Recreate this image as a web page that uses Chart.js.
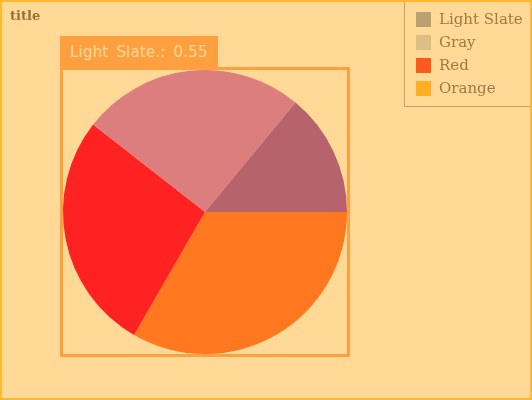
<!DOCTYPE html>
<html>
<head>
<meta charset="utf-8">
<script src="https://cdn.jsdelivr.net/npm/chart.js@4/dist/chart.umd.min.js"></script>
<style>
  html, body { margin: 0; padding: 0; background: #FFD995; }
  #wrap { position: relative; width: 532px; height: 400px; overflow: hidden; background: #FFD995; }
  #c { position: absolute; left: 0; top: 0; }
  #frame { position: absolute; left: 0; top: 0; width: 532px; height: 400px; box-sizing: border-box; border: 2px solid #FFB830; pointer-events: none; }
  #title { position: absolute; left: 10px; top: 8px; font: bold 13px "DejaVu Serif", serif; color: #967038; line-height: 16px; }
  #legend { position: absolute; left: 404px; top: -1px; width: 127px; height: 108px; box-sizing: border-box; border: 1px solid #C8A060; }
  .li { position: absolute; left: 11px; height: 16px; font: 15px "DejaVu Serif", serif; color: #A07844; line-height: 16px; white-space: nowrap; }
  .li span.sw { position: absolute; left: 0; top: 1px; width: 15px; height: 15px; }
  .li span.tx { position: absolute; left: 23px; top: 0; }
  #tip { position: absolute; background: #FFA040; color: #FFD696; font: 15px "DejaVu Sans", sans-serif; word-spacing: 3px; letter-spacing: 0.2px; box-sizing: border-box; padding-left: 10px; line-height: 32px; white-space: pre; }
</style>
</head>
<body>
<div id="wrap">
  <canvas id="c" width="532" height="400"></canvas>
  <div id="title">title</div>
  <div id="legend"></div>
  <div id="tip"></div>
  <div id="frame"></div>
</div>
<script>
const titleText = 'title';
const categories = ['Light Slate', 'Gray', 'Red', 'Orange'];
const values = [0.55, 1.0, 1.07, 1.31];
const sliceColors = ['#B6636D', '#DC7E7E', '#FF2222', '#FF7820'];
const legendColors = ['#B8A070', '#DEBE84', '#FF5A1E', '#FFB020'];
const tipIndex = 0;

document.getElementById('title').textContent = titleText;

// legend
const lg = document.getElementById('legend');
categories.forEach((c, i) => {
  const d = document.createElement('div');
  d.className = 'li';
  d.style.top = (11 + i * 23) + 'px';
  const sw = document.createElement('span');
  sw.className = 'sw';
  sw.style.background = legendColors[i];
  const tx = document.createElement('span');
  tx.className = 'tx';
  tx.textContent = c;
  d.appendChild(sw); d.appendChild(tx);
  lg.appendChild(d);
});

// Chart.js draws clockwise; the reference goes counterclockwise from 3 o'clock,
// so feed reversed order and start at 3 o'clock.
const revLabels = categories.slice().reverse();
const revValues = values.slice().reverse();
const revColors = sliceColors.slice().reverse();

const boxPlugin = {
  id: 'boxPlugin',
  afterDraw(chart) {
    const arc = chart.getDatasetMeta(0).data[0];
    if (!arc) return;
    const { x, y } = arc;
    const r = arc.outerRadius;
    const ctx = chart.ctx;
    ctx.save();
    ctx.strokeStyle = '#FFA040';
    ctx.lineWidth = 3;
    ctx.strokeRect(x - r - 1.5, y - r - 1.5, 2 * r + 3, 2 * r + 3);
    ctx.restore();
    const tip = document.getElementById('tip');
    tip.textContent = categories[tipIndex] + '.: ' + values[tipIndex];
    tip.style.left = (x - r - 3) + 'px';
    tip.style.top = (y - r - 34) + 'px';
    tip.style.width = '158px';
    tip.style.height = '32px';
  }
};

new Chart(document.getElementById('c'), {
  type: 'pie',
  data: {
    labels: revLabels,
    datasets: [{
      data: revValues,
      backgroundColor: revColors,
      borderWidth: 0,
      hoverOffset: 0,
      offset: 0
    }]
  },
  options: {
    responsive: false,
    animation: false,
    events: [],
    rotation: 90,
    layout: { padding: { left: 63, right: 185, top: 70, bottom: 46 } },
    plugins: {
      legend: { display: false },
      title: { display: false },
      tooltip: { enabled: false }
    }
  },
  plugins: [boxPlugin]
});
</script>
</body>
</html>
